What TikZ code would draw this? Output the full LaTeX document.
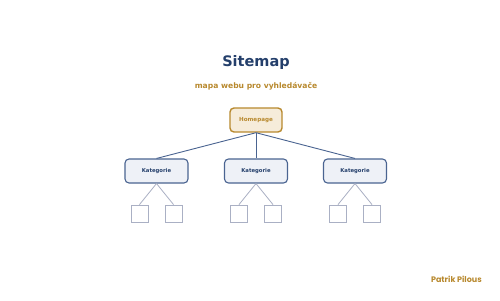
\documentclass[tikz,border=0pt]{standalone}
\usepackage{fontspec}
\setmainfont{DejaVu Sans}
\newfontfamily\popfont{Poppins}
\definecolor{navy}{HTML}{243F6B}
\definecolor{gold}{HTML}{B8892E}
\definecolor{beige}{HTML}{F6ECDA}
\definecolor{catfill}{HTML}{EEF1F7}
\definecolor{catline}{HTML}{4A6491}
\definecolor{leafline}{HTML}{AAB0C4}
\begin{document}
\begin{tikzpicture}[x=1pt,y=-1pt,
  home/.style={draw=gold,fill=beige,line width=1.4pt,rounded corners=4pt,minimum width=52pt,minimum height=24pt,inner sep=0pt,text=gold,font=\fontsize{5.6}{6}\selectfont\bfseries},
  cat/.style={draw=catline,fill=catfill,line width=1.1pt,rounded corners=4pt,minimum width=63pt,minimum height=24pt,inner sep=0pt,text=navy,font=\fontsize{5.3}{6}\selectfont\bfseries},
  leaf/.style={draw=leafline,fill=white,line width=0.9pt,minimum width=17pt,minimum height=17pt,inner sep=0pt},
  link/.style={draw=catline,line width=0.9pt},
  leaflink/.style={draw=leafline,line width=0.8pt}]
\useasboundingbox (0,0) rectangle (500,300);
\fill[white] (0,0) rectangle (500,300);
\node[text=navy,font=\fontsize{14.5}{17}\selectfont\bfseries,inner sep=0pt] (title) at (256,62.5) {Sitemap};
\node[text=gold,font=\fontsize{7.6}{9}\selectfont\bfseries] (sub) at (256,86) {mapa webu pro vyhledávače};
\node[home] (h) at (256,120) {Homepage};
\foreach \n/\x in {a/156.5,b/256,c/355} {
  \node[cat] (\n) at (\x,171) {Kategorie};
  \node[leaf] (\n1) at (\x-17,213.5) {};
  \node[leaf] (\n2) at (\x+17,213.5) {};
  \draw[link] (h.south) -- (\n.north);
  \draw[leaflink] (\n.south) -- (\n1.north);
  \draw[leaflink] (\n.south) -- (\n2.north);
}
\node[text=gold,font=\popfont\fontsize{8}{9}\selectfont\bfseries,anchor=east,inner sep=0pt] (auth) at (482,279.5) {Patrik Pilous};
\end{tikzpicture}
\end{document}
